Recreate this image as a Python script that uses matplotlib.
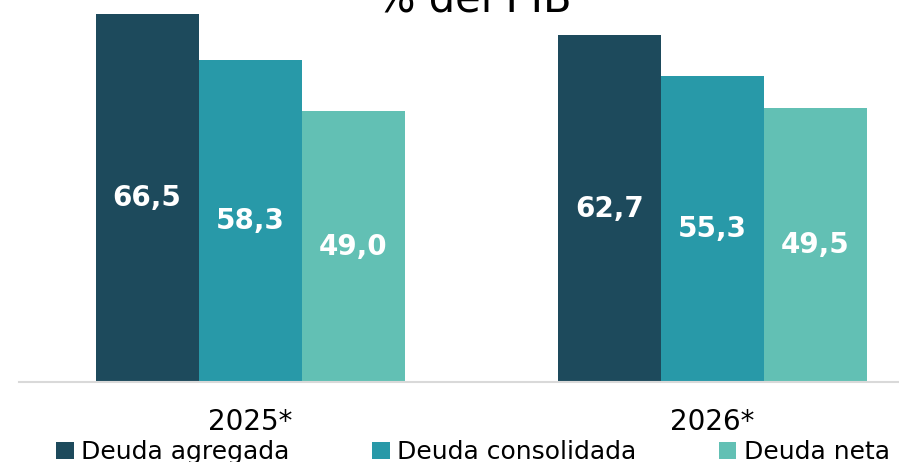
import matplotlib.pyplot as plt
import numpy as np

years = ['2025*', '2026*']
series = ['Deuda agregada', 'Deuda consolidada', 'Deuda neta']
agregada = [66.5, 62.7]
consolidada = [58.3, 55.3]
neta = [49.0, 49.5]
colors = ['#1D4A5C', '#2899A8', '#62C0B4']

fig = plt.figure(figsize=(8.99, 4.62), dpi=100)
ax = fig.add_axes([19 / 899, 80 / 462, 924.5 / 899, 387 / 462])

x = np.arange(len(years))
w = 0.2227
for i, (vals, c, name) in enumerate(zip([agregada, consolidada, neta], colors, series)):
    bars = ax.bar(x + (i - 1) * w, vals, width=w, color=c, label=name)
    for b, v in zip(bars, vals):
        ax.text(b.get_x() + b.get_width() / 2, v / 2, f'{v:.1f}'.replace('.', ','),
                ha='center', va='center', color='white', fontsize=20, fontweight='bold')

ax.set_xlim(-0.5, 1.5)
ax.set_ylim(0, 70)
ax.set_xticks(x)
ax.set_xticklabels(years, fontsize=20)
ax.tick_params(axis='x', length=0, pad=19)
ax.set_yticks([])
for s in ['top', 'right', 'left']:
    ax.spines[s].set_visible(False)
ax.spines['bottom'].set_color('#D9D9D9')
ax.spines['bottom'].set_linewidth(1.5)

fig.text(474 / 899, 1 - 12 / 462, '% del PIB', ha='center', va='baseline', fontsize=30)

fig.legend(loc='upper center', bbox_to_anchor=(473 / 899, 1 - 430 / 462), ncol=3,
           frameon=False, fontsize=18, handlelength=0.7, handleheight=0.7,
           handletextpad=0.3, columnspacing=3.3, borderaxespad=0)

fig.savefig('out.png', dpi=100)
